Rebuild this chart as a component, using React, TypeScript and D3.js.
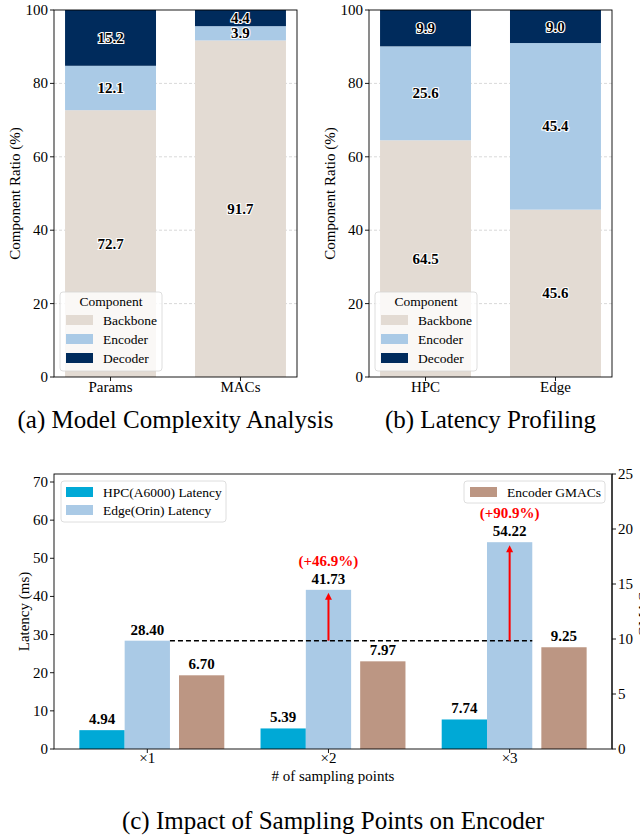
import * as d3 from "d3";

// panel (a) and (b): stacked ratios
const complexityCats = ["Params", "MACs"];
const complexityBackbone = [72.7, 91.7];
const complexityEncoder = [12.1, 3.9];
const complexityDecoder = [15.2, 4.4];

const latencyCats = ["HPC", "Edge"];
const latencyBackbone = [64.5, 45.6];
const latencyEncoder = [25.6, 45.4];
const latencyDecoder = [9.9, 9.0];

const componentNames = ["Backbone", "Encoder", "Decoder"];
const componentColors = ["#e3dbd3", "#aacae6", "#002b5c"];
const ratioTicks = [0, 20, 40, 60, 80, 100];

// panel (c): sampling points
const samplingCats = ["×1", "×2", "×3"];
const hpcLatency = [4.94, 5.39, 7.74];
const edgeLatency = [28.4, 41.73, 54.22];
const encoderGmacs = [6.7, 7.97, 9.25];
const increaseLabels = ["", "(+46.9%)", "(+90.9%)"];
const latencyTicks = [0, 10, 20, 30, 40, 50, 60, 70];
const gmacTicks = [0, 5, 10, 15, 20, 25];

const FONT = "'Liberation Serif', 'Times New Roman', serif";
const TICK = 15;
const LEG = 13.5;
const TITLE = 25;

type StackProps = {
  left: number;
  right: number;
  cats: string[];
  series: number[][];
  title: string;
};

function StackedPanel({ left, right, cats, series, title }: StackProps) {
  const top = 10;
  const bottom = 377;
  const x = d3.scaleLinear().domain([-0.435, cats.length - 1 + 0.435]).range([left, right]);
  const y = d3.scaleLinear().domain([0, 100]).range([bottom, top]);
  const bw = x(0.35) - x(0);
  const stacked = cats.map((_, i) => {
    let acc = 0;
    return series.map((s) => {
      const y0 = acc;
      acc += s[i];
      return [y0, acc];
    });
  });
  const lx = left + 6;
  const ly = 292;
  return (
    <g fontFamily={FONT}>
      {ratioTicks.slice(1, -1).map((t) => (
        <line key={t} x1={left} x2={right} y1={y(t)} y2={y(t)} stroke="#c8c8c8" strokeWidth={0.7} strokeDasharray="3,2" />
      ))}
      {stacked.map((segs, i) =>
        segs.map(([y0, y1], j) => (
          <rect key={`${i}-${j}`} x={x(i) - bw} y={y(y1)} width={bw * 2} height={y(y0) - y(y1)} fill={componentColors[j]} />
        ))
      )}
      {stacked.map((segs, i) =>
        segs.map(([y0, y1], j) => (
          <text
            key={`t${i}-${j}`}
            x={x(i)}
            y={y((y0 + y1) / 2) + 5}
            textAnchor="middle"
            fontSize={15}
            fontWeight="bold"
            fill="#000"
            stroke="#fff"
            strokeWidth={2.2}
            paintOrder="stroke"
          >
            {series[j][i].toFixed(1)}
          </text>
        ))
      )}
      <rect x={left} y={top} width={right - left} height={bottom - top} fill="none" stroke="#000" strokeWidth={0.9} />
      {ratioTicks.map((t) => (
        <g key={t}>
          <line x1={left - 4} x2={left} y1={y(t)} y2={y(t)} stroke="#000" strokeWidth={0.9} />
          <text x={left - 6} y={y(t) + 5} textAnchor="end" fontSize={TICK}>
            {t}
          </text>
        </g>
      ))}
      {cats.map((c, i) => (
        <g key={c}>
          <line x1={x(i)} x2={x(i)} y1={bottom} y2={bottom + 4} stroke="#000" strokeWidth={0.9} />
          <text x={x(i)} y={bottom + 15} textAnchor="middle" fontSize={TICK}>
            {c}
          </text>
        </g>
      ))}
      <text transform={`translate(${left - 34},${(top + bottom) / 2}) rotate(-90)`} textAnchor="middle" fontSize={TICK}>
        Component Ratio (%)
      </text>
      <g>
        <rect x={lx} y={ly} width={102} height={79} rx={3} fill="#fff" fillOpacity={0.8} stroke="#d6d6d6" strokeWidth={0.8} />
        <text x={lx + 51} y={ly + 14} textAnchor="middle" fontSize={LEG}>
          Component
        </text>
        {componentNames.map((n, j) => (
          <g key={n}>
            <rect x={lx + 6} y={ly + 23 + j * 19} width={27} height={10} fill={componentColors[j]} />
            <text x={lx + 43} y={ly + 32.5 + j * 19} fontSize={LEG}>
              {n}
            </text>
          </g>
        ))}
      </g>
      <text x={(left + right) / 2} y={428} textAnchor="middle" fontSize={TITLE}>
        {title}
      </text>
    </g>
  );
}

function SamplingPanel() {
  const left = 54;
  const right = 612;
  const top = 474;
  const bottom = 749;
  const w = 0.25;
  const x = d3.scaleLinear().domain([-0.515, 2.565]).range([left, right]);
  const yL = d3.scaleLinear().domain([0, 72.1]).range([bottom, top]);
  const yR = d3.scaleLinear().domain([0, 25]).range([bottom, top]);
  const px = x(w) - x(0);
  const baseY = yL(edgeLatency[0]);
  const labelProps = { textAnchor: "middle" as const, fontSize: 15, fontWeight: "bold" };
  return (
    <g fontFamily={FONT}>
      {samplingCats.map((_, i) => (
        <g key={i}>
          <rect x={x(i - 1.5 * w)} y={yL(hpcLatency[i])} width={px} height={bottom - yL(hpcLatency[i])} fill="#00a9d6" />
          <rect x={x(i - 0.5 * w)} y={yL(edgeLatency[i])} width={px} height={bottom - yL(edgeLatency[i])} fill="#aacae6" />
          <rect x={x(i + 0.7 * w)} y={yR(encoderGmacs[i])} width={px} height={bottom - yR(encoderGmacs[i])} fill="#bc9683" />
          <text x={x(i - w)} y={yL(hpcLatency[i]) - 6} {...labelProps}>
            {hpcLatency[i].toFixed(2)}
          </text>
          <text x={x(i)} y={yL(edgeLatency[i]) - 6} {...labelProps}>
            {edgeLatency[i].toFixed(2)}
          </text>
          <text x={x(i + 1.2 * w)} y={yR(encoderGmacs[i]) - 6} {...labelProps}>
            {encoderGmacs[i].toFixed(2)}
          </text>
        </g>
      ))}
      <line x1={x(0.5 * w)} x2={x(2 + 0.5 * w)} y1={baseY} y2={baseY} stroke="#000" strokeWidth={1.5} strokeDasharray="5,3" />
      {samplingCats.map((_, i) =>
        increaseLabels[i] ? (
          <g key={`a${i}`}>
            <line x1={x(i)} x2={x(i)} y1={baseY} y2={yL(edgeLatency[i]) + 8} stroke="#ff0000" strokeWidth={2} />
            <path
              d={`M${x(i) - 3.5},${yL(edgeLatency[i]) + 10} L${x(i)},${yL(edgeLatency[i]) + 3} L${x(i) + 3.5},${yL(edgeLatency[i]) + 10} Z`}
              fill="#ff0000"
            />
            <text x={x(i)} y={yL(edgeLatency[i]) - 24} {...labelProps} fill="#ff0000">
              {increaseLabels[i]}
            </text>
          </g>
        ) : null
      )}
      <rect x={left} y={top} width={right - left} height={bottom - top} fill="none" stroke="#000" strokeWidth={0.9} />
      <line x1={right} x2={right} y1={top} y2={bottom} stroke="#333" strokeWidth={1.6} />
      {latencyTicks.map((t) => (
        <g key={t}>
          <line x1={left - 4} x2={left} y1={yL(t)} y2={yL(t)} stroke="#000" strokeWidth={0.9} />
          <text x={left - 6} y={yL(t) + 5} textAnchor="end" fontSize={TICK}>
            {t}
          </text>
        </g>
      ))}
      {gmacTicks.map((t) => (
        <g key={t}>
          <line x1={right} x2={right + 4} y1={yR(t)} y2={yR(t)} stroke="#000" strokeWidth={0.9} />
          <text x={right + 6} y={yR(t) + 5} fontSize={TICK}>
            {t}
          </text>
        </g>
      ))}
      {samplingCats.map((c, i) => (
        <g key={c}>
          <line x1={x(i)} x2={x(i)} y1={bottom} y2={bottom + 4} stroke="#000" strokeWidth={0.9} />
          <text x={x(i)} y={bottom + 14} textAnchor="middle" fontSize={TICK}>
            {c}
          </text>
        </g>
      ))}
      <text x={(left + right) / 2} y={bottom + 32} textAnchor="middle" fontSize={TICK}>
        # of sampling points
      </text>
      <text transform={`translate(${left - 25},${(top + bottom) / 2}) rotate(-90)`} textAnchor="middle" fontSize={TICK}>
        Latency (ms)
      </text>
      <text transform={`translate(${right + 37},${(top + bottom) / 2}) rotate(-90)`} textAnchor="middle" fontSize={TICK}>
        GMACs
      </text>
      <g>
        <rect x={61} y={481} width={165} height={41} rx={3} fill="#fff" fillOpacity={0.8} stroke="#d6d6d6" strokeWidth={0.8} />
        <rect x={66} y={487} width={27} height={10} fill="#00a9d6" />
        <text x={103} y={496.5} fontSize={LEG}>
          HPC(A6000) Latency
        </text>
        <rect x={66} y={505} width={27} height={10} fill="#aacae6" />
        <text x={103} y={514.5} fontSize={LEG}>
          Edge(Orin) Latency
        </text>
      </g>
      <g>
        <rect x={464} y={481} width={141} height={22} rx={3} fill="#fff" fillOpacity={0.8} stroke="#d6d6d6" strokeWidth={0.8} />
        <rect x={470} y={487} width={27} height={10} fill="#bc9683" />
        <text x={507} y={496.5} fontSize={LEG}>
          Encoder GMACs
        </text>
      </g>
      <text x={(left + right) / 2} y={829} textAnchor="middle" fontSize={TITLE}>
        (c) Impact of Sampling Points on Encoder
      </text>
    </g>
  );
}

export default function App() {
  return (
    <svg width={640} height={838} style={{ position: "absolute", left: 0, top: 0, background: "#fff" }}>
      <StackedPanel
        left={54}
        right={297}
        cats={complexityCats}
        series={[complexityBackbone, complexityEncoder, complexityDecoder]}
        title="(a) Model Complexity Analysis"
      />
      <StackedPanel
        left={369}
        right={612}
        cats={latencyCats}
        series={[latencyBackbone, latencyEncoder, latencyDecoder]}
        title="(b) Latency Profiling"
      />
      <SamplingPanel />
    </svg>
  );
}
